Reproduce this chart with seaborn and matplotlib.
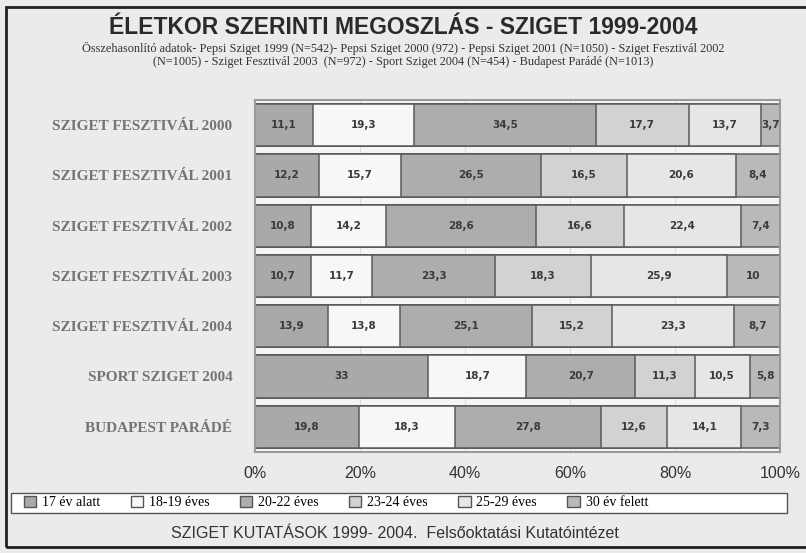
import numpy as np
import pandas as pd
import seaborn as sns
import matplotlib.pyplot as plt
from matplotlib.patches import Rectangle, Patch

events = ["SZIGET FESZTIVÁL 2000", "SZIGET FESZTIVÁL 2001", "SZIGET FESZTIVÁL 2002",
          "SZIGET FESZTIVÁL 2003", "SZIGET FESZTIVÁL 2004", "SPORT SZIGET 2004",
          "BUDAPEST PARÁDÉ"]
age_groups = ["17 év alatt", "18-19 éves", "20-22 éves", "23-24 éves", "25-29 éves", "30 év felett"]

under17 = [11.1, 12.2, 10.8, 10.7, 13.9, 33, 19.8]
age18_19 = [19.3, 15.7, 14.2, 11.7, 13.8, 18.7, 18.3]
age20_22 = [34.5, 26.5, 28.6, 23.3, 25.1, 20.7, 27.8]
age23_24 = [17.7, 16.5, 16.6, 18.3, 15.2, 11.3, 12.6]
age25_29 = [13.7, 20.6, 22.4, 25.9, 23.3, 10.5, 14.1]
over30 = [3.7, 8.4, 7.4, 10, 8.7, 5.8, 7.3]

colors = ["#a9a9a9", "#f7f7f7", "#adadad", "#d2d2d2", "#e6e6e6", "#b9b9b9"]

df = pd.DataFrame({"event": events})
for name, vals in zip(age_groups, [under17, age18_19, age20_22, age23_24, age25_29, over30]):
    df[name] = vals
cum = df[age_groups].cumsum(axis=1)

fig = plt.figure(figsize=(8.06, 5.53), dpi=100)
fig.patch.set_facecolor("#ebebeb")
ax = fig.add_axes([0.316, 0.183, 0.652, 0.636])
ax.set_facecolor("#f5f5f5")

# stacked bars: draw cumulative totals from the last group backwards
for i in range(len(age_groups) - 1, -1, -1):
    sns.barplot(x=cum[age_groups[i]], y=df["event"], orient="h", color=colors[i],
                edgecolor="#5a5a5a", linewidth=1.1, width=0.84, ax=ax, saturation=1)

for r in range(len(events)):
    left = 0
    for g in age_groups:
        v = df.loc[r, g]
        lab = f"{v:g}".replace(".", ",")
        ax.text(left + v / 2, r, lab, ha="center", va="center", fontsize=7.5,
                fontweight="bold", color="#3a3a3a", family="DejaVu Sans")
        left += v

ax.set_xlim(0, 100)
ax.set_ylim(6.5, -0.5)
ax.set_xticks([0, 20, 40, 60, 80, 100])
ax.set_xticklabels(["0%", "20%", "40%", "60%", "80%", "100%"], fontsize=11.5,
                   family="Liberation Sans", color="#333333")
ax.set_yticks(range(len(events)))
ax.set_yticklabels(events, fontsize=11, family="Liberation Serif", fontweight="bold",
                   color="#747474")
ax.tick_params(axis="x", length=0, pad=10)
ax.tick_params(axis="y", length=0, pad=16)
ax.set_xlabel("")
ax.set_ylabel("")
ax.xaxis.grid(True, color="#dcdcdc", linewidth=0.8)
ax.set_axisbelow(True)
for s in ax.spines.values():
    s.set_color("#9a9a9a")
    s.set_linewidth(1.5)

fig.text(0.5, 0.951, "ÉLETKOR SZERINTI MEGOSZLÁS - SZIGET 1999-2004", ha="center",
         va="center", fontsize=16.5, fontweight="bold", family="Liberation Sans",
         color="#2a2a2a")
fig.text(0.5, 0.9,
         "Összehasonlító adatok- Pepsi Sziget 1999 (N=542)- Pepsi Sziget 2000 (972) - Pepsi Sziget 2001 (N=1050) - Sziget Fesztivál 2002\n"
         "(N=1005) - Sziget Fesztivál 2003  (N=972) - Sport Sziget 2004 (N=454) - Budapest Parádé (N=1013)",
         ha="center", va="center", fontsize=8.8, family="Liberation Serif", color="#333333",
         linespacing=1.15)

# legend box
fig.patches.append(Rectangle((0.014, 0.073), 0.962, 0.036, transform=fig.transFigure,
                             facecolor="white", edgecolor="#555555", linewidth=1))
handles = [Patch(facecolor=c, edgecolor="#555555", label=g) for c, g in zip(colors, age_groups)]
fig.legend(handles=handles, loc="center left", bbox_to_anchor=(0.014, 0.091), ncol=6,
           frameon=False, prop={"family": "Liberation Serif", "size": 10},
           handlelength=0.9, handleheight=0.9, handletextpad=0.4, columnspacing=2.2)

fig.text(0.49, 0.035, "SZIGET KUTATÁSOK 1999- 2004.  Felsőoktatási Kutatóintézet",
         ha="center", va="center", fontsize=11.5, family="Liberation Sans", color="#333333")

fig.patches.append(Rectangle((0.007, 0.01), 1.2, 0.978, transform=fig.transFigure,
                             facecolor="none", edgecolor="#222222", linewidth=2))

fig.savefig("out.png", dpi=100, facecolor=fig.get_facecolor())
